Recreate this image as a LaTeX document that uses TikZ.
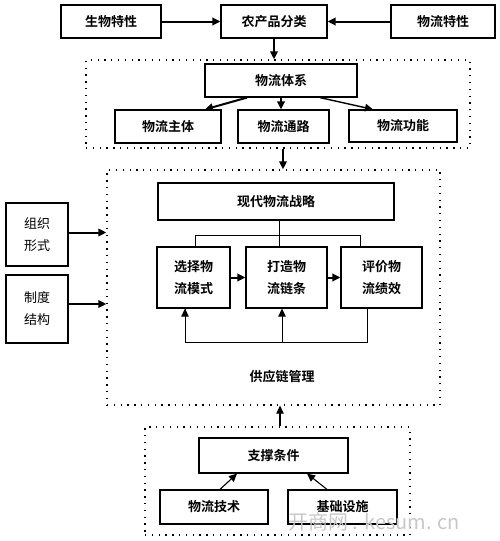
\documentclass[tikz,border=0pt]{standalone}
\usepackage{fontspec}
\newfontfamily\cjk[BoldFont={Noto Sans CJK SC Bold}]{Noto Sans CJK SC}
\usetikzlibrary{arrows.meta}
\tikzset{every picture/.style={line width=0.75pt}}

\begin{document}
\begin{tikzpicture}[x=1pt,y=1pt,yscale=-1,xscale=1,
    box/.style={draw,line width=1.2pt,inner sep=0pt,font=\cjk\bfseries\fontsize{13}{22}\selectfont,align=center},
    dotbox/.style={draw,line width=1.3pt,dash pattern={on 1.3pt off 5.5pt},inner sep=0pt},
    arr/.style={line width=2pt,-{Triangle[length=8pt,width=7.5pt]}},
    thin/.style={line width=1pt}]
    \useasboundingbox (0,0) rectangle (500,541);

    %Shape: Rectangle (top row)
    \node [box,minimum width=100,minimum height=33] (bio) at (111,21.5) {生物特性};
    \node [box,minimum width=106,minimum height=33] (cls) at (274,21.5) {农产品分类};
    \node [box,minimum width=104,minimum height=33] (wlt) at (443,21.5) {物流特性};

    %Shape: Dotted Rectangle (logistics system)
    \node [dotbox,minimum width=384,minimum height=88] (wlbox) at (278,104) {};
    \node [box,minimum width=152,minimum height=33] (sys) at (281,80.5) {物流体系};
    \node [box,minimum width=106,minimum height=33] (zt) at (168,126.5) {物流主体};
    \node [box,minimum width=91,minimum height=33] (tl) at (283.5,126.5) {物流通路};
    \node [box,minimum width=108,minimum height=32] (gn) at (403,126) {物流功能};

    %Shape: Dotted Rectangle (supply chain management)
    \node [dotbox,minimum width=333,minimum height=235] (glbox) at (273.5,287.5) {};
    \node [box,minimum width=236,minimum height=37] (zl) at (276,201.5) {现代物流战略};
    \node [box,minimum width=73,minimum height=61] (xz) at (193.5,277.5) {选择物\\流模式};
    \node [box,minimum width=81,minimum height=61] (dz) at (286.5,277.5) {打造物\\流链条};
    \node [box,minimum width=81,minimum height=61] (pj) at (381.5,277.5) {评价物\\流绩效};
    \node [font=\cjk\bfseries\fontsize{13}{16}\selectfont] (gyl) at (282,377) {供应链管理};

    %Shape: Rectangle (left inputs)
    \node [box,font=\cjk\fontsize{13}{22}\selectfont,minimum width=62,minimum height=63] (zz) at (37,234.5) {组织\\形式};
    \node [box,font=\cjk\fontsize{13}{22}\selectfont,minimum width=62,minimum height=68] (zd) at (37,309) {制度\\结构};

    %Shape: Dotted Rectangle (support conditions)
    \node [dotbox,minimum width=265,minimum height=108] (zcbox) at (277.5,481) {};
    \node [box,minimum width=149,minimum height=35] (zc) at (273.5,455.5) {支撑条件};
    \node [box,minimum width=108,minimum height=34] (js) at (214,507) {物流技术};
    \node [box,minimum width=109,minimum height=34] (jc) at (342.5,507) {基础设施};

    % Text Node (watermark)
    \node [anchor=west,inner sep=0pt,text=black!22,font=\cjk\fontsize{20}{24}\selectfont] (wm) at (288,522) {开商网 . kesum. cn};

    %Straight Lines: top row and logistics system
    \draw [arr] (bio) -- (cls);
    \draw [arr] (wlt) -- (cls);
    \draw [arr] (cls.south) -- (cls.south |- wlbox.north);
    \draw [arr] ([xshift=-34]sys.south) -- ([xshift=37]zt.north);
    \draw [arr] (sys.south) -- (sys.south |- tl.north);
    \draw [arr,line width=1.4pt] ([xshift=39]sys.south) -- ([xshift=-30]gn.north);
    \coordinate (wlout) at ([xshift=5]wlbox.south);
    \draw [arr] (wlout) -- (wlout |- glbox.north);

    %Straight Lines: left inputs
    \draw [arr] ([yshift=-2]zz.east) -- ([yshift=-2]zz.east -| glbox.west);
    \draw [arr] ([yshift=-5]zd.east) -- ([yshift=-5]zd.east -| glbox.west);

    %Straight Lines: strategy tree
    \coordinate (br) at ([xshift=3,yshift=15]zl.south);
    \draw [thin] ([xshift=3]zl.south) -- (br |- dz.north);
    \draw [thin] ([xshift=1.5]xz.north) |- (br) -| ([xshift=-21.5]pj.north);
    \draw [arr] (xz) -- (dz);
    \draw [arr] (dz) -- (pj);

    %Straight Lines: feedback loop
    \coordinate (fb) at ([xshift=-14.5,yshift=34]pj.south);
    \coordinate (dzin) at ([xshift=-4.5]dz.south);
    \draw [thin] ([xshift=-14.5]pj.south) -- (fb) -| ([xshift=-8.5]xz.south);
    \draw [arr,line width=1pt] (fb -| xz.south) ++(-8.5,0) -- ([xshift=-8.5]xz.south);
    \draw [arr,line width=1pt] (dzin |- fb) -- (dzin);

    %Straight Lines: support conditions
    \coordinate (zcout) at ([xshift=2.5]zcbox.north);
    \draw [arr,line width=1.2pt] (zcout) -- (zcout |- glbox.south);
    \draw [arr,line width=1.1pt] ([xshift=6]js.north) -- ([xshift=-36.5]zc.south);
    \draw [arr,line width=1.1pt] ([xshift=-15.5]jc.north) -- ([xshift=33.5]zc.south);
\end{tikzpicture}
\end{document}
